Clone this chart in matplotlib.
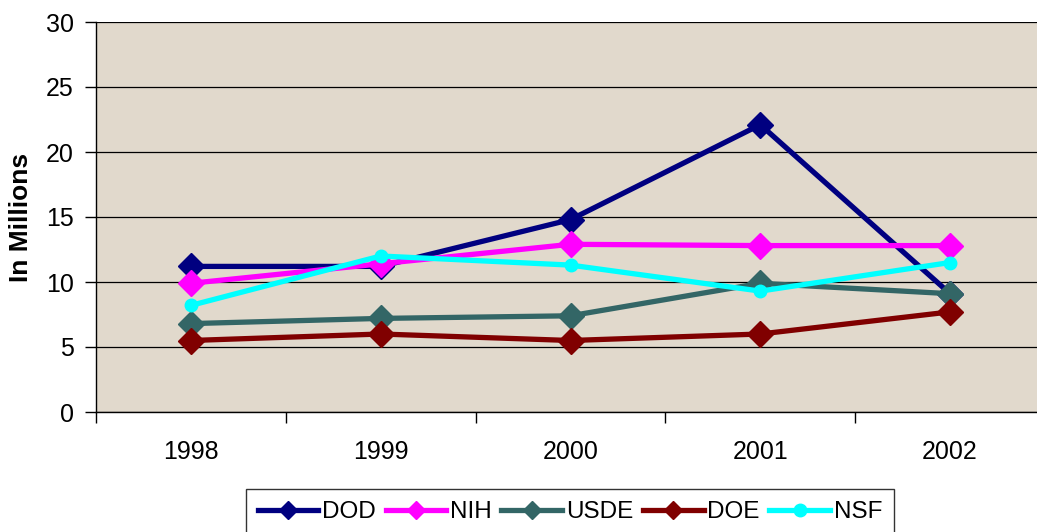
import matplotlib
matplotlib.use("Agg")
import matplotlib.pyplot as plt
from matplotlib.ticker import FixedLocator

plt.rcParams['font.family'] = ['Liberation Sans', 'DejaVu Sans']

years = ["1998", "1999", "2000", "2001", "2002"]
dod = [11.2, 11.2, 14.8, 22.1, 9.1]
nih = [9.9, 11.4, 12.9, 12.8, 12.8]
usde = [6.8, 7.2, 7.4, 9.9, 9.1]
doe = [5.5, 6.0, 5.5, 6.0, 7.7]
nsf = [8.2, 12.0, 11.3, 9.3, 11.5]

series = [
    ("DOD", dod, "#000080", "D"),
    ("NIH", nih, "#FF00FF", "D"),
    ("USDE", usde, "#336666", "D"),
    ("DOE", doe, "#800000", "D"),
    ("NSF", nsf, "#00FFFF", "o"),
]

W, H = 1037, 532
fig = plt.figure(figsize=(W / 100, H / 100), dpi=100)
fig.patch.set_facecolor("white")
ax = fig.add_axes([96 / W, (H - 412) / H, (1045 - 96) / W, (412 - 22) / H])
ax.set_facecolor("#E1D9CC")

x = list(range(len(years)))
handles = []
for name, vals, col, mk in series:
    ms = 13 if mk == "D" else 9
    h, = ax.plot(x, vals, color=col, lw=3.8, marker=mk, markersize=ms,
                 markeredgecolor=col, label=name, zorder=3, clip_on=False)
    handles.append(h)

ax.set_xlim(-0.5, 4.5)
ax.set_ylim(0, 30)
ax.set_yticks([0, 5, 10, 15, 20, 25, 30])
ax.yaxis.grid(True, color="black", lw=0.9)
ax.set_axisbelow(True)

ax.set_xticks(x)
ax.set_xticklabels(years)
ax.xaxis.set_minor_locator(FixedLocator([-0.5, 0.5, 1.5, 2.5, 3.5, 4.5]))
ax.tick_params(axis="x", which="major", length=0, pad=20, labelsize=18)
ax.tick_params(axis="x", which="minor", length=8, width=1, color="black")
ax.tick_params(axis="y", length=8, width=1, labelsize=18, pad=8)

for s in ["top", "right"]:
    ax.spines[s].set_visible(False)
ax.spines["left"].set_color("black")
ax.spines["bottom"].set_color("black")
ax.spines["left"].set_linewidth(1)
ax.spines["bottom"].set_linewidth(1)

ax.set_ylabel("In Millions", fontsize=19, fontweight="bold", labelpad=9)

leg = fig.legend(handles=handles, loc="center", bbox_to_anchor=(570 / W, 20 / H),
                 ncol=5, frameon=True, fontsize=17.5, handlelength=2.5,
                 handletextpad=0.15, columnspacing=0.4, borderpad=0.5)
leg.get_frame().set_edgecolor("black")
leg.get_frame().set_linewidth(1)
leg.get_frame().set_boxstyle("square", pad=0)
leg.get_frame().set_facecolor("white")
for lh in leg.legend_handles:
    lh.set_markersize(9)

fig.savefig("out.png", dpi=100)
